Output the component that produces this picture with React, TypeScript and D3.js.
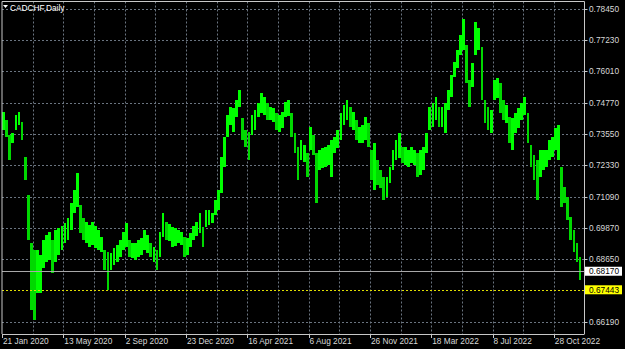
import React from "react";
import * as d3 from "d3";

// High / low of each 4-day bar (CADCHF daily)
const highs = [
  0.7442,0.7410,0.7352,0.7360,0.7430,0.7442,0.7403,0.7265,0.7116,0.6928,
  0.6900,0.6900,0.6881,0.6939,0.6959,0.6971,0.6939,0.6979,0.6987,0.6994,
  0.7006,0.7026,0.7085,0.7136,0.7203,0.7077,0.7026,0.7010,0.6998,0.7010,
  0.6994,0.6979,0.6951,0.6900,0.6892,0.6889,0.6908,0.6920,0.6939,0.6971,
  0.7006,0.6939,0.6928,0.6928,0.6939,0.6947,0.6979,0.6959,0.6928,0.6912,
  0.6900,0.6971,0.7046,0.7010,0.7002,0.6991,0.6987,0.6979,0.6971,0.6951,
  0.6947,0.6967,0.6994,0.7010,0.7046,0.6991,0.7057,0.7057,0.7046,0.7097,
  0.7136,0.7265,0.7344,0.7430,0.7462,0.7458,0.7489,0.7528,0.7418,0.7371,
  0.7363,0.7430,0.7450,0.7477,0.7517,0.7501,0.7477,0.7462,0.7458,0.7438,
  0.7430,0.7442,0.7481,0.7489,0.7438,0.7360,0.7305,0.7332,0.7312,0.7281,
  0.7383,0.7352,0.7281,0.7293,0.7301,0.7305,0.7312,0.7332,0.7344,0.7371,
  0.7438,0.7469,0.7489,0.7462,0.7442,0.7410,0.7383,0.7391,0.7422,0.7399,
  0.7293,0.7320,0.7254,0.7214,0.7187,0.7187,0.7226,0.7293,0.7332,0.7360,
  0.7305,0.7305,0.7293,0.7305,0.7293,0.7281,0.7293,0.7305,0.7360,0.7462,
  0.7477,0.7501,0.7462,0.7462,0.7477,0.7528,0.7587,0.7638,0.7685,0.7744,
  0.7807,0.7705,0.7568,0.7634,0.7795,0.7772,0.7697,0.7489,0.7462,0.7450,
  0.7568,0.7575,0.7556,0.7489,0.7469,0.7422,0.7418,0.7438,0.7458,0.7477,
  0.7501,0.7438,0.7312,0.7273,0.7254,0.7293,0.7293,0.7293,0.7332,0.7344,
  0.7379,0.7391,0.7226,0.7148,0.7108,0.7030,0.6979,0.6928,0.6873,
];

const lows = [
  0.7371,0.7344,0.7254,0.7320,0.7371,0.7391,0.7332,0.7175,0.6939,0.6665,
  0.6625,0.6731,0.6731,0.6830,0.6853,0.6861,0.6810,0.6853,0.6881,0.6900,
  0.6928,0.6939,0.6979,0.7046,0.7069,0.6967,0.6939,0.6928,0.6912,0.6920,
  0.6908,0.6900,0.6892,0.6822,0.6743,0.6822,0.6841,0.6853,0.6873,0.6900,
  0.6912,0.6873,0.6869,0.6861,0.6873,0.6881,0.6900,0.6889,0.6873,0.6853,
  0.6822,0.6873,0.6951,0.6939,0.6936,0.6912,0.6916,0.6928,0.6920,0.6873,
  0.6881,0.6912,0.6939,0.6955,0.6967,0.6912,0.6991,0.6998,0.7006,0.7038,
  0.7057,0.7124,0.7226,0.7344,0.7391,0.7363,0.7422,0.7462,0.7332,0.7305,
  0.7254,0.7352,0.7371,0.7422,0.7438,0.7430,0.7410,0.7410,0.7403,0.7371,
  0.7363,0.7379,0.7422,0.7426,0.7344,0.7281,0.7175,0.7254,0.7246,0.7187,
  0.7293,0.7273,0.7085,0.7214,0.7222,0.7226,0.7234,0.7187,0.7281,0.7301,
  0.7332,0.7391,0.7410,0.7383,0.7371,0.7332,0.7320,0.7320,0.7332,0.7305,
  0.7175,0.7136,0.7155,0.7144,0.7097,0.7108,0.7163,0.7214,0.7254,0.7261,
  0.7242,0.7234,0.7226,0.7242,0.7234,0.7187,0.7195,0.7214,0.7281,0.7371,
  0.7383,0.7410,0.7383,0.7383,0.7360,0.7450,0.7501,0.7579,0.7615,0.7666,
  0.7685,0.7556,0.7462,0.7540,0.7666,0.7685,0.7489,0.7399,0.7371,0.7360,
  0.7489,0.7497,0.7438,0.7410,0.7399,0.7320,0.7293,0.7360,0.7379,0.7410,
  0.7430,0.7320,0.7226,0.7175,0.7097,0.7187,0.7214,0.7226,0.7254,0.7265,
  0.7293,0.7254,0.7069,0.7085,0.7018,0.6939,0.6892,0.6853,0.6783,
];

const daysPerBar = 4;
const lastClose = 0.6817;
const askPrice = 0.67443;
const priceTicks = [0.7845, 0.7723, 0.7601, 0.7477, 0.7355, 0.7233, 0.7109, 0.6987, 0.6865, 0.6743, 0.6619];
const dateLabels = ["21 Jan 2020", "13 May 2020", "2 Sep 2020", "23 Dec 2020", "16 Apr 2021", "6 Aug 2021", "26 Nov 2021", "18 Mar 2022", "8 Jul 2022", "28 Oct 2022"];
const dateLabelDays = [0, 80, 160, 240, 320, 400, 480, 560, 640, 720];
const gridDays = d3.range(40, 760, 40);
const title = "CADCHF,Daily";

const W = 625, H = 349;
const L = 2, R = 584.5, T = 1.5, B = 334;
const FONT = "'Liberation Sans', Arial, sans-serif";

export default function App() {
  const x = d3.scaleLinear().domain([0, 760]).range([L, R]);
  const y = d3.scaleLinear().domain([0.6619, 0.7845]).range([321.7, 9.3]);
  const step = x(daysPerBar) - x(0);
  const gridColor = "#6a7480";
  const frame = "#c8c8c8";
  return (
    <svg width={W} height={H} style={{ position: "absolute", left: 0, top: 0, background: "#000" }}>
      <rect x={0} y={0} width={W} height={H} fill="#000" />
      {/* horizontal grid */}
      {priceTicks.map((p, i) => (
        <line key={"hg" + i} x1={L} x2={R} y1={Math.round(y(p)) + 0.5} y2={Math.round(y(p)) + 0.5}
          stroke={gridColor} strokeWidth={1} strokeDasharray="2,2" />
      ))}
      {/* vertical grid */}
      {gridDays.map((d, i) => (
        <line key={"vg" + i} x1={Math.round(x(d)) + 0.5} x2={Math.round(x(d)) + 0.5} y1={T} y2={B}
          stroke={gridColor} strokeWidth={1} strokeDasharray="2,2" />
      ))}
      {/* bars */}
      <g shapeRendering="crispEdges">
        {highs.map((h, i) => {
          const x0 = x(i * daysPerBar);
          const yh = y(h), yl = y(lows[i]);
          const down = i > 0 && (h + lows[i]) < (highs[i - 1] + lows[i - 1]) - 0.004;
          return <rect key={"b" + i} x={x0 + 0.3} y={yh} width={step - 0.3} height={Math.max(1, yl - yh)} fill={down ? "#00d800" : "#00ff00"} />;
        })}
      </g>
      {/* current price line */}
      <line x1={L} x2={R} y1={Math.round(y(lastClose)) + 0.5} y2={Math.round(y(lastClose)) + 0.5} stroke="#a8a8a8" strokeWidth={1} />
      {/* ask line */}
      <line x1={L} x2={R} y1={Math.round(y(askPrice)) + 0.5} y2={Math.round(y(askPrice)) + 0.5} stroke="#e0e000" strokeWidth={1} strokeDasharray="2,2" />
      {/* frame */}
      <line x1={L} x2={R} y1={T} y2={T} stroke={frame} strokeWidth={1} />
      <line x1={L} x2={R} y1={B + 0.5} y2={B + 0.5} stroke={frame} strokeWidth={1} />
      <line x1={L} x2={L} y1={T} y2={B} stroke={frame} strokeWidth={1} />
      <line x1={R} x2={R} y1={T} y2={B} stroke={frame} strokeWidth={1} />
      {/* y labels */}
      {priceTicks.map((p, i) => (
        <g key={"yl" + i}>
          <line x1={R} x2={R + 3} y1={Math.round(y(p)) + 0.5} y2={Math.round(y(p)) + 0.5} stroke={frame} />
          <text x={589} y={y(p) + 3} fill="#d8d8d8" fontSize={8.3} fontFamily={FONT}>{p.toFixed(5)}</text>
        </g>
      ))}
      {/* current price label */}
      <rect x={585} y={y(lastClose) - 4.5} width={37} height={9} fill="#ffffff" />
      <text x={589} y={y(lastClose) + 3} fill="#000" fontSize={8.3} fontFamily={FONT}>{lastClose.toFixed(5)}</text>
      <rect x={585} y={y(askPrice) - 4.5} width={37} height={9} fill="#ffff00" />
      <text x={589} y={y(askPrice) + 3} fill="#000" fontSize={8.3} fontFamily={FONT}>{askPrice.toFixed(5)}</text>
      {/* x labels */}
      {dateLabels.map((lab, i) => (
        <g key={"xl" + i}>
          <line x1={Math.round(x(dateLabelDays[i])) + 0.5} x2={Math.round(x(dateLabelDays[i])) + 0.5} y1={B} y2={B + 4} stroke={frame} />
          <text x={x(dateLabelDays[i]) + 1} y={344} fill="#d8d8d8" fontSize={8.3} fontFamily={FONT}>{lab}</text>
        </g>
      ))}
      {/* title */}
      <path d="M3,5 L8,5 L5.5,8 Z" fill="#ffffff" />
      <text x={10} y={10.5} fill="#ffffff" fontSize={8.3} fontFamily={FONT}>{title}</text>
    </svg>
  );
}
